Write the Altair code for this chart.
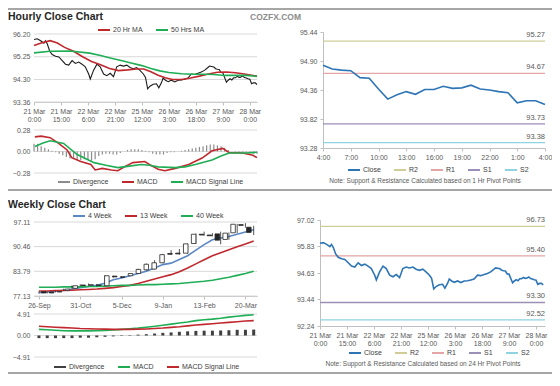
import json
import altair as alt
import pandas as pd

FONT = "Liberation Sans"
LBL = "#595959"
AXC = "#bfbfbf"
GRID = "#d9d9d9"

# ---------------- hourly close (hours from 21 Mar 0:00, weekend removed) ----------------
H_HOURS = [0, 1.8, 3.7, 5.5, 6.4, 7.4, 8.7, 10.1, 12, 13.8, 15.7, 17.5, 19.3, 21.2, 23,
           24.9, 26.7, 28.5, 30.4, 31.3, 33.1, 35, 36.8, 38.7, 40.5, 42.4, 44.2, 46, 47.9,
           49.7, 51.6, 53.4, 55.2, 57.1, 58.9, 60.8, 62, 63.2, 64.5, 66.3, 68.1, 69.4, 70.9,
           71.8, 73.1, 74.6, 76.4, 78.3, 80.1, 82, 83.8, 85.6, 87.5, 89.3, 91.2, 93, 94.8,
           96.7, 97.6]
H_CLOSE = [95.97, 96.00, 95.92, 95.82, 95.92, 95.78, 95.49, 95.34, 95.27, 95.24, 95.09,
           94.94, 94.90, 95.09, 94.97, 95.03, 94.94, 94.83, 94.53, 94.32, 94.68, 94.94,
           94.83, 94.53, 94.46, 94.56, 94.42, 94.83, 94.90, 94.86, 94.90, 94.80, 94.75,
           94.80, 94.68, 94.53, 94.39, 93.91, 94.02, 94.10, 94.12, 93.95, 94.17, 94.36,
           94.27, 94.21, 94.27, 94.20, 94.27, 94.28, 94.31, 94.36, 94.53, 94.51, 94.56,
           94.61, 94.68, 94.80, 94.86]

# last 24 hours (27 Mar 4:00 -> 28 Mar 4:00)
TR_HOURS = [0, 1, 2, 3, 4, 5, 6, 7, 8, 9, 10, 11, 12, 13, 14, 15, 16, 17, 18, 19, 20, 21, 22, 23, 24]
TR_CLOSE = [94.82, 94.75, 94.73, 94.72, 94.59, 94.58, 94.38, 94.19, 94.27, 94.33, 94.28,
            94.37, 94.37, 94.43, 94.39, 94.40, 94.45, 94.38, 94.36, 94.33, 94.31, 94.12,
            94.16, 94.16, 94.09]
TR_START_HOUR = 100

MA20_H = [0, 4, 9, 13, 17, 22, 27, 32, 37, 42, 47, 52, 57, 61, 65, 69, 73, 77, 82, 87, 92,
          97, 102, 107, 112, 117, 121, 124]
MA20_V = [95.72, 95.82, 95.92, 95.82, 95.64, 95.48, 95.25, 95.05, 94.92, 94.76, 94.67,
          94.70, 94.74, 94.74, 94.62, 94.48, 94.37, 94.30, 94.30, 94.36, 94.44, 94.53,
          94.60, 94.61, 94.58, 94.53, 94.48, 94.44]
MA50_H = [0, 9, 20, 31, 37, 43, 49, 54, 60, 65, 70, 75, 82, 88, 95, 100, 106, 112, 118, 124]
MA50_V = [95.41, 95.48, 95.49, 95.40, 95.30, 95.19, 95.08, 94.99, 94.88, 94.76, 94.66,
          94.59, 94.54, 94.52, 94.52, 94.51, 94.47, 94.47, 94.47, 94.43]

HM_H = [0.5, 4, 9, 13.7, 18.4, 21, 26, 31.6, 34, 38, 43, 46.6, 51, 55, 61.6, 65, 69, 72.8,
        78.5, 86, 93.5, 99, 105, 108.5, 116, 121.7, 124]
HM_MACD = [0.19, 0.20, 0.18, 0.105, 0.02, -0.08, -0.13, -0.17, -0.24, -0.22, -0.24, -0.25,
           -0.19, -0.145, -0.13, -0.18, -0.23, -0.25, -0.22, -0.17, -0.085, 0.01, 0.04,
           -0.015, -0.02, -0.05, -0.08]
HS_H = [0.5, 5, 9, 16.5, 24, 33.4, 40, 46.6, 53, 59.7, 64, 69, 78.5, 84, 89.7, 99, 104,
        108.5, 118, 124]
HS_V = [0.065, 0.11, 0.14, 0.105, -0.04, -0.145, -0.18, -0.21, -0.19, -0.17, -0.18, -0.20,
        -0.21, -0.20, -0.17, -0.11, -0.06, -0.02, -0.02, -0.01]
DIV_H = [0, 2, 4, 6, 8, 10, 12, 14, 16, 18, 20, 22, 24, 26, 28, 30, 32, 34, 36, 38, 40, 42,
         44, 46, 48, 50, 52, 54, 56, 58, 60, 62, 64, 66, 68, 70, 72, 74, 76, 78, 80, 82, 84,
         86, 88, 90, 92, 94, 96, 98, 100, 102, 104, 106, 108, 110, 112, 114, 116, 118, 120,
         122, 124]
DIV_V = [0.10, 0.10, 0.07, 0.05, 0.03, 0.01, -0.01, -0.03, -0.05, -0.07,
         -0.09, -0.10, -0.11, -0.11, -0.10, -0.11, -0.12, -0.10, -0.06, -0.04,
         -0.03, -0.03, -0.04, -0.04, -0.02, 0.00, 0.02, 0.03, 0.03, 0.03,
         0.02, 0.01, -0.01, -0.03, -0.04, -0.04, -0.04, -0.02, -0.01, -0.01,
         0.00, 0.01, 0.02, 0.03, 0.04, 0.05, 0.06, 0.07, 0.08, 0.09,
         0.09, 0.08, 0.07, 0.05, 0.02, 0.00, -0.01, -0.01, -0.01, -0.02,
         -0.02, -0.03, -0.03]

H_TICKS = [0, 15, 30, 45, 60, 75, 90, 105, 120]
H_DAY = ["21 Mar", "21 Mar", "22 Mar", "22 Mar", "25 Mar", "26 Mar", "26 Mar", "27 Mar", "28 Mar"]
H_TIME = ["0:00", "15:00", "6:00", "21:00", "12:00", "3:00", "18:00", "9:00", "0:00"]
TL_YTICKS = [93.36, 94.30, 95.25, 96.20]
TLM_YTICKS = [-0.28, 0.0, 0.28]

TR_TICKS = [0, 3, 6, 9, 12, 15, 18, 21, 24]
TR_LABELS = ["4:00", "7:00", "10:00", "13:00", "16:00", "19:00", "22:00", "1:00", "4:00"]
TR_YTICKS = [93.28, 93.82, 94.36, 94.90, 95.44]
LEVEL_NAMES = ["R2", "R1", "S1", "S2"]
TR_LEVELS = [95.27, 94.67, 93.73, 93.38]
BR_LEVELS = [96.73, 95.40, 93.30, 92.52]
BR_YTICKS = [92.24, 93.44, 94.63, 95.83, 97.02]

# ---------------- weekly ----------------
W_IDX = [0, 1, 2, 3, 4, 5, 6, 7, 8, 9, 10, 11, 12, 13, 14, 15, 16, 17, 18, 19, 20, 21, 22,
         23, 24, 25, 26]
W_OPEN = [78.30, 78.20, 78.20, 78.60, 79.20, 80.10, 80.00, 80.10, 79.90, 82.50, 82.30,
          82.60, 83.20, 84.20, 84.40, 86.10, 88.60, 88.70, 88.70, 91.30, 93.80, 93.60,
          93.90, 92.40, 94.20, 96.40, 95.70]
W_CLOSE = [77.95, 77.95, 78.35, 79.00, 79.90, 79.95, 80.20, 80.00, 82.60, 82.30, 82.20,
           83.20, 84.30, 85.70, 86.10, 88.30, 88.40, 88.50, 91.20, 93.80, 93.60, 93.40,
           92.20, 94.10, 96.50, 96.20, 94.30]
W_HIGH = [78.40, 78.30, 78.50, 79.10, 80.00, 80.30, 80.50, 80.40, 82.80, 82.60, 82.50,
          83.30, 84.50, 85.90, 86.80, 88.50, 89.50, 89.80, 91.30, 94.00, 94.50, 94.10,
          94.50, 94.30, 96.60, 96.80, 96.10]
W_LOW = [77.80, 77.80, 78.10, 78.50, 79.10, 79.80, 79.90, 79.70, 79.80, 82.10, 82.00,
         82.50, 83.10, 84.00, 84.30, 86.00, 88.30, 88.30, 88.60, 91.20, 93.40, 93.20,
         91.10, 92.30, 94.10, 95.60, 93.60]
W_MA4 = [78.0, 78.2, 78.4, 78.7, 79.0, 79.4, 79.7, 80.0, 80.6, 81.5, 82.0, 82.6, 83.2, 83.8,
         84.7, 85.6, 86.0, 87.0, 88.0, 89.5, 91.0, 92.3, 92.8, 93.2, 93.8, 94.4, 95.0]
W_MA13 = [78.5, 78.5, 78.6, 78.6, 78.7, 78.8, 78.9, 79.0, 79.2, 79.4, 79.7, 80.0, 80.5, 81.1,
          81.7, 82.3, 82.9, 83.7, 84.7, 85.8, 86.9, 88.0, 88.8, 89.6, 90.4, 91.2, 92.0]
W_MA40 = [79.5, 79.5, 79.5, 79.6, 79.6, 79.6, 79.7, 79.7, 79.8, 79.9, 80.0, 80.0, 80.1, 80.2,
          80.2, 80.3, 80.4, 80.5, 80.7, 80.9, 81.1, 81.4, 81.8, 82.2, 82.7, 83.2, 83.8]
W_MACD = [1.40, 1.30, 1.20, 1.10, 1.05, 1.05, 1.05, 1.10, 1.15, 1.25, 1.40, 1.55, 1.70, 1.90,
          2.10, 2.35, 2.60, 2.85, 3.10, 3.40, 3.60, 3.75, 3.95, 4.20, 4.40, 4.60, 4.75]
W_SIG = [2.10, 2.00, 1.90, 1.80, 1.70, 1.60, 1.55, 1.50, 1.45, 1.40, 1.40, 1.40, 1.45, 1.50,
         1.60, 1.70, 1.85, 2.00, 2.20, 2.40, 2.55, 2.70, 2.85, 3.00, 3.15, 3.30, 3.40]
W_DIV = [-0.6, -0.6, -0.6, -0.6, -0.6, -0.5, -0.5, -0.4, -0.3, -0.2, -0.1, 0.1, 0.2, 0.3,
         0.45, 0.6, 0.7, 0.85, 0.95, 1.05, 1.1, 1.1, 1.15, 1.2, 1.3, 1.3, 1.35]
W_TICKS = [0, 5, 10, 15, 20, 25]
W_LABELS = ["26-Sep", "31-Oct", "5-Dec", "9-Jan", "13-Feb", "20-Mar"]
W_YTICKS = [77.13, 83.79, 90.46, 97.11]
WM_YTICKS = [-4.91, 0.0, 4.91]

TITLE_HOURLY = "Hourly Close Chart"
TITLE_WEEKLY = "Weekly Close Chart"
SITE = "COZFX.COM"
NOTE1 = "Note: Support & Resistance Calculated based on 1 Hr Pivot Points"
NOTE24 = "Note: Support & Resistance Calculated based on 24 Hr Pivot Points"

# ---------------- canvas & panel frames (pixels) ----------------
W, H = 544, 368
TL_X, TL_Y = (26, 249), (94, 26)
TLM_Y = (165, 122)
TR_X, TR_Y = (315, 537), (140, 24)
BL_X, BL_Y = (26, 249), (288, 214)
BLM_Y = (349, 306)
BR_X, BR_Y = (312, 537), (318, 212)


def sc(domain, rng):
    return alt.Scale(domain=list(domain), range=list(rng), nice=False, zero=False)


def xaxis(bottom, values, expr, multiline=False):
    kw = dict(orient="bottom", offset=bottom - H, values=values, labelExpr=expr, title=None,
              grid=False, tickSize=3, labelFlush=False, labelOverlap=False, labelPadding=2,
              domainColor=AXC, tickColor=AXC)
    if multiline:
        kw.update(labelLineHeight=8.5, labelBaseline="top")
    return alt.Axis(**kw)


def yaxis(left, values, line=False):
    return alt.Axis(orient="left", offset=-left, values=values, format=".2f", title=None,
                    grid=False, domain=line, ticks=line, tickSize=3,
                    labelPadding=3 if line else 4)


def leg(x, y):
    return alt.Legend(orient="none", legendX=x, legendY=y, direction="horizontal", title=None)


h_expr = "[" + json.dumps(H_DAY) + "[round(datum.value / 15)], " + json.dumps(H_TIME) + "[round(datum.value / 15)]]"
tr_expr = json.dumps(TR_LABELS) + "[round(datum.value / 3)]"
w_expr = json.dumps(W_LABELS) + "[round(datum.value / 5)]"

one = pd.DataFrame({"k": [0]})
layers = []


def grid(ticks, xs, ys):
    d = pd.DataFrame({"v": ticks})
    return alt.Chart(d).mark_rule(color=GRID, strokeWidth=1).encode(
        y=alt.Y("v:Q", scale=ys, axis=None),
        x=alt.XDatum(xs.domain[0], type="quantitative", scale=xs, axis=None),
        x2=alt.X2Datum(xs.domain[1]))


def rule_sep(y):
    return alt.Chart(one).mark_rule(color="#a6a6a6", strokeWidth=2).encode(
        x=alt.value(0), x2=alt.value(W), y=alt.value(y))


def label(text, x, y, size, weight="normal", color="#262626", align="left"):
    return alt.Chart(one).mark_text(text=text, align=align, baseline="middle", fontSize=size,
                                    fontWeight=weight, color=color, font=FONT).encode(
        x=alt.value(x), y=alt.value(y))


# separators and headings
layers += [rule_sep(1), rule_sep(182), rule_sep(365)]
layers += [label(TITLE_HOURLY, 0, 9, 10.5, "bold"),
           label(SITE, 242, 9, 8.5, "bold", "#8c8c8c"),
           label(TITLE_WEEKLY, 0, 197, 10.5, "bold"),
           label(NOTE1, 417, 173, 6.5, color=LBL, align="center"),
           label(NOTE24, 415, 356, 6.5, color=LBL, align="center")]

# ---------------- hourly close (top left) ----------------
tlx, tly = sc((0, 124), TL_X), sc((93.36, 96.20), TL_Y)
all_h = H_HOURS + [TR_START_HOUR + t for t in TR_HOURS]
all_c = H_CLOSE + TR_CLOSE
df_close = pd.DataFrame({"h": all_h, "v": all_c})
df_ma = pd.concat([
    pd.DataFrame({"h": MA20_H, "v": MA20_V, "s": "20 Hr MA"}),
    pd.DataFrame({"h": MA50_H, "v": MA50_V, "s": "50 Hrs MA"}),
])
ma_scale = alt.Scale(domain=["20 Hr MA", "50 Hrs MA"], range=["#c0282d", "#1fae55"])
layers += [
    grid(TL_YTICKS, tlx, tly),
    alt.Chart(df_close).mark_line(color="#1a1a1a", strokeWidth=1.1).encode(
        x=alt.X("h:Q", scale=tlx, axis=xaxis(TL_Y[0], H_TICKS, h_expr, True)),
        y=alt.Y("v:Q", scale=tly, axis=yaxis(TL_X[0], TL_YTICKS))),
    alt.Chart(df_ma).mark_line(strokeWidth=1.6).encode(
        x=alt.X("h:Q", scale=tlx, axis=None), y=alt.Y("v:Q", scale=tly, axis=None),
        color=alt.Color("s:N", scale=ma_scale, legend=leg(89, 15))),
]

# hourly MACD
tlmy = sc((-0.28, 0.28), TLM_Y)
df_hdiv = pd.DataFrame({"h": DIV_H, "v": DIV_V, "s": "Divergence"})
df_hm = pd.concat([
    pd.DataFrame({"h": HM_H, "v": HM_MACD, "s": "MACD"}),
    pd.DataFrame({"h": HS_H, "v": HS_V, "s": "MACD Signal Line"}),
])
hm_dom = ["Divergence", "MACD", "MACD Signal Line"]
hm_rng = ["#8c8c8c", "#c0282d", "#1fae55"]
layers += [
    grid(TLM_YTICKS, tlx, tlmy),
    alt.Chart(df_hdiv).mark_rule(strokeWidth=1.2).encode(
        x=alt.X("h:Q", scale=tlx, axis=None),
        y=alt.Y("v:Q", scale=tlmy, axis=yaxis(TL_X[0], TLM_YTICKS)), y2=alt.Y2Datum(0),
        color=alt.Color("s:N", scale=alt.Scale(domain=hm_dom, range=hm_rng), legend=leg(49, 167))),
    alt.Chart(df_hm).mark_line(strokeWidth=1.6).encode(
        x=alt.X("h:Q", scale=tlx, axis=None), y=alt.Y("v:Q", scale=tlmy, axis=None),
        color=alt.Color("s:N", scale=alt.Scale(domain=hm_dom, range=hm_rng), legend=None)),
]

# ---------------- pivot charts (right) ----------------
lv_dom = ["Close", "R2", "R1", "S1", "S2"]
lv_rng = ["#2e75b6", "#cfcc98", "#e3a5a5", "#9a8fb7", "#8fd2e2"]


def pivot(close_h, close_v, levels, xs, ys, xax, yax, legx, legy):
    df_c = pd.DataFrame({"h": close_h, "v": close_v, "s": "Close"})
    df_l = pd.DataFrame({"s": LEVEL_NAMES, "v": levels})
    df_l["t"] = [f"{v:.2f}" for v in levels]
    return [
        alt.Chart(df_l).mark_rule(strokeWidth=1.3).encode(
            y=alt.Y("v:Q", scale=ys, axis=yax),
            x=alt.XDatum(xs.domain[0], type="quantitative", scale=xs, axis=None),
            x2=alt.X2Datum(xs.domain[1]),
            color=alt.Color("s:N", scale=alt.Scale(domain=lv_dom, range=lv_rng),
                            legend=leg(legx, legy))),
        alt.Chart(df_l).mark_text(align="right", baseline="bottom", dy=-2, fontSize=7.5,
                                  color=LBL, font=FONT).encode(
            x=alt.XDatum(xs.domain[1], type="quantitative", scale=xs, axis=None),
            y=alt.Y("v:Q", scale=ys, axis=None), text="t:N"),
        alt.Chart(df_c).mark_line(strokeWidth=1.6).encode(
            x=alt.X("h:Q", scale=xs, axis=xax), y=alt.Y("v:Q", scale=ys, axis=None),
            color=alt.Color("s:N", scale=alt.Scale(domain=lv_dom, range=lv_rng), legend=None)),
    ]


trx, try_ = sc((0, 24), TR_X), sc((93.28, 95.44), TR_Y)
layers += pivot(TR_HOURS, TR_CLOSE, TR_LEVELS, trx, try_,
                xaxis(TR_Y[0], TR_TICKS, tr_expr), yaxis(TR_X[0], TR_YTICKS, True), 339, 155)
brx, bry = sc((0, 125), BR_X), sc((92.24, 97.02), BR_Y)
layers += pivot(all_h, all_c, BR_LEVELS, brx, bry,
                xaxis(BR_Y[0], H_TICKS, h_expr, True), yaxis(BR_X[0], BR_YTICKS, True), 340, 338)

# ---------------- weekly chart (bottom left) ----------------
blx, bly = sc((-0.6, 26.4), BL_X), sc((77.13, 97.11), BL_Y)
df_w = pd.DataFrame({"i": W_IDX, "o": W_OPEN, "c": W_CLOSE, "hi": W_HIGH, "lo": W_LOW})
df_wma = pd.concat([
    pd.DataFrame({"i": W_IDX, "v": W_MA4, "s": "4 Week"}),
    pd.DataFrame({"i": W_IDX, "v": W_MA13, "s": "13 Week"}),
    pd.DataFrame({"i": W_IDX, "v": W_MA40, "s": "40 Week"}),
])
wma_scale = alt.Scale(domain=["4 Week", "13 Week", "40 Week"],
                      range=["#5b87c5", "#c0282d", "#1fae55"])
layers += [
    grid(W_YTICKS, blx, bly),
    alt.Chart(df_wma).mark_line(strokeWidth=1.6).encode(
        x=alt.X("i:Q", scale=blx, axis=xaxis(BL_Y[0], W_TICKS, w_expr)),
        y=alt.Y("v:Q", scale=bly, axis=yaxis(BL_X[0], W_YTICKS)),
        color=alt.Color("s:N", scale=wma_scale, legend=leg(64, 201))),
    alt.Chart(df_w).mark_rule(color="#262626", strokeWidth=0.8).encode(
        x=alt.X("i:Q", scale=blx, axis=None), y=alt.Y("lo:Q", scale=bly, axis=None), y2="hi:Q"),
    alt.Chart(df_w).mark_bar(size=4.5, stroke="#262626", strokeWidth=0.8).encode(
        x=alt.X("i:Q", scale=blx, axis=None), y=alt.Y("o:Q", scale=bly, axis=None), y2="c:Q",
        fill=alt.condition("datum.c >= datum.o", alt.value("white"), alt.value("#262626"))),
]

# weekly MACD
blmy = sc((-4.91, 4.91), BLM_Y)
df_wdiv = pd.DataFrame({"i": W_IDX, "v": W_DIV, "s": "Divergence"})
df_wm = pd.concat([
    pd.DataFrame({"i": W_IDX, "v": W_MACD, "s": "MACD"}),
    pd.DataFrame({"i": W_IDX, "v": W_SIG, "s": "MACD Signal Line"}),
])
wm_rng = ["#404040", "#1fae55", "#c0282d"]
layers += [
    grid(WM_YTICKS, blx, blmy),
    alt.Chart(df_wdiv).mark_rule(strokeWidth=3).encode(
        x=alt.X("i:Q", scale=blx, axis=None),
        y=alt.Y("v:Q", scale=blmy, axis=yaxis(BL_X[0], WM_YTICKS)), y2=alt.Y2Datum(0),
        color=alt.Color("s:N", scale=alt.Scale(domain=hm_dom, range=wm_rng), legend=leg(45, 352))),
    alt.Chart(df_wm).mark_line(strokeWidth=1.6).encode(
        x=alt.X("i:Q", scale=blx, axis=None), y=alt.Y("v:Q", scale=blmy, axis=None),
        color=alt.Color("s:N", scale=alt.Scale(domain=hm_dom, range=wm_rng), legend=None)),
]

chart = alt.layer(*layers).resolve_scale(
    x="independent", y="independent", color="independent"
).resolve_axis(x="independent", y="independent").resolve_legend(color="independent").properties(
    width=W, height=H, padding=0, autosize=alt.AutoSizeParams(type="none")
).configure(font=FONT).configure_view(stroke=None).configure_axis(
    labelFont=FONT, labelFontSize=7, labelColor=LBL, domainColor=AXC, tickColor=AXC
).configure_legend(
    labelFont=FONT, labelFontSize=7, labelColor="#404040", symbolType="stroke",
    symbolStrokeWidth=2, symbolSize=144, columnPadding=9, labelOffset=2, padding=0
)

chart.save("out.html", embed_options={"renderer": "svg", "actions": False})
